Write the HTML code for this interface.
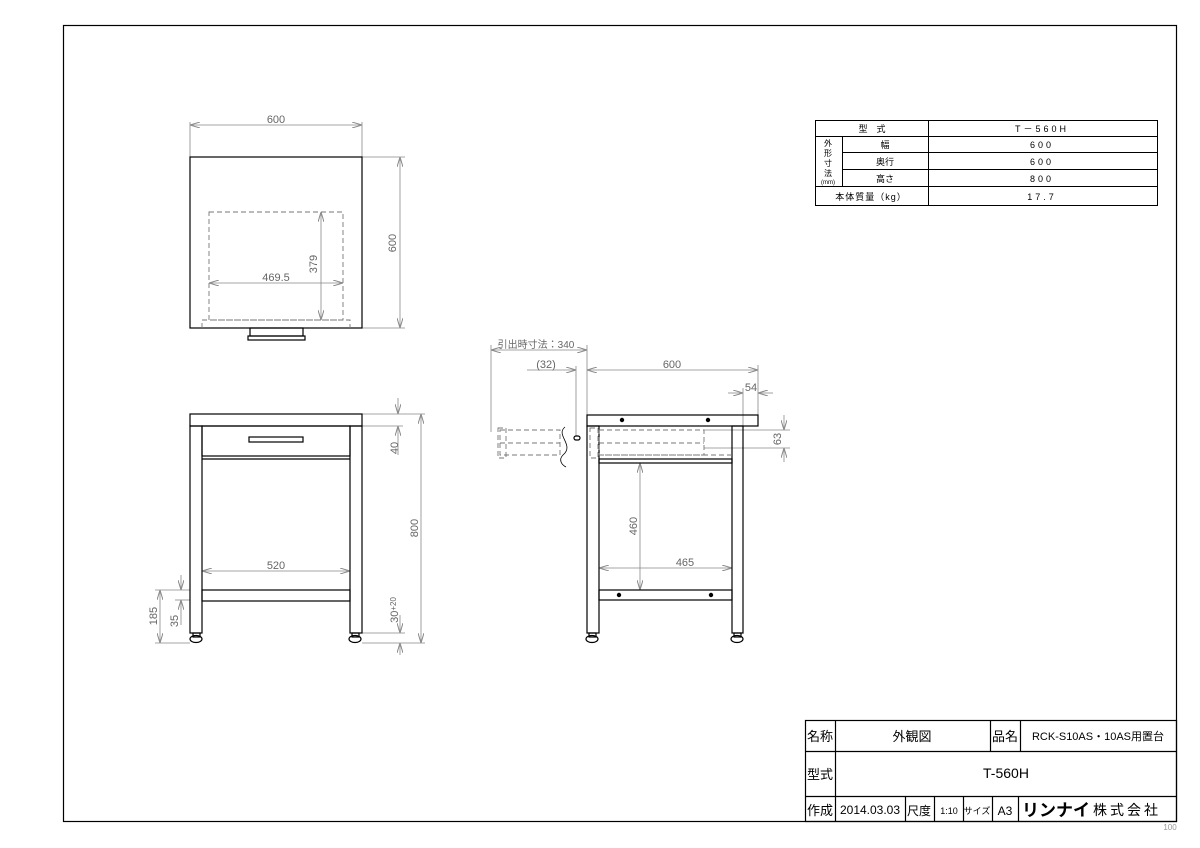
<!DOCTYPE html>
<html><head><meta charset="utf-8"><style>
html,body{margin:0;padding:0;background:#fff}
svg{display:block}
text{font-family:"Liberation Sans","Noto Sans CJK JP",sans-serif}
</style></head><body>
<svg width="1200" height="848" viewBox="0 0 1200 848" xmlns="http://www.w3.org/2000/svg">
<defs>
<marker id="a" viewBox="0 0 10 6" refX="10" refY="3" markerWidth="10" markerHeight="6" orient="auto-start-reverse" markerUnits="userSpaceOnUse"><path d="M0,0 L10,3 L0,6" fill="none" stroke="#888" stroke-width="1"/></marker>
</defs>
<rect x="63.5" y="25.5" width="1113" height="796" fill="none" stroke="#000" stroke-width="1.2"/>

<g stroke="#888" stroke-width="0.8" fill="none">
<line x1="190" y1="122" x2="190" y2="157"/><line x1="362" y1="122" x2="362" y2="157"/>
<line x1="190" y1="125" x2="362" y2="125" marker-start="url(#a)" marker-end="url(#a)"/>
<line x1="362" y1="157" x2="405" y2="157"/><line x1="362" y1="328" x2="405" y2="328"/>
<line x1="400" y1="157" x2="400" y2="328" marker-start="url(#a)" marker-end="url(#a)"/>
<line x1="321" y1="212" x2="321" y2="320" marker-start="url(#a)" marker-end="url(#a)"/>
<line x1="209" y1="283" x2="343" y2="283" marker-start="url(#a)" marker-end="url(#a)"/>
<line x1="362" y1="414" x2="425" y2="414"/><line x1="362" y1="426" x2="403" y2="426"/>
<line x1="398" y1="398" x2="398" y2="414" marker-end="url(#a)"/>
<line x1="398" y1="455" x2="398" y2="426" marker-end="url(#a)"/>
<line x1="421" y1="414" x2="421" y2="643" marker-start="url(#a)" marker-end="url(#a)"/>
<line x1="202" y1="571" x2="350" y2="571" marker-start="url(#a)" marker-end="url(#a)"/>
<line x1="155" y1="590" x2="190" y2="590"/><line x1="175" y1="600" x2="190" y2="600"/>
<line x1="155" y1="643" x2="190" y2="643"/>
<line x1="160" y1="590" x2="160" y2="643" marker-start="url(#a)" marker-end="url(#a)"/>
<line x1="181" y1="575" x2="181" y2="590" marker-end="url(#a)"/>
<line x1="181" y1="625" x2="181" y2="600" marker-end="url(#a)"/>
<line x1="362" y1="633" x2="405" y2="633"/><line x1="362" y1="643" x2="425" y2="643"/>
<line x1="400" y1="615" x2="400" y2="633" marker-end="url(#a)"/>
<line x1="400" y1="655" x2="400" y2="643" marker-end="url(#a)"/>
<line x1="587" y1="345" x2="587" y2="415"/><line x1="758" y1="365" x2="758" y2="415"/>
<line x1="491" y1="345" x2="491" y2="432"/><line x1="576" y1="366" x2="576" y2="436"/>
<line x1="491" y1="350" x2="587" y2="350" marker-start="url(#a)" marker-end="url(#a)"/>
<line x1="527" y1="370" x2="576" y2="370" marker-end="url(#a)"/>
<line x1="587" y1="370" x2="758" y2="370" marker-start="url(#a)" marker-end="url(#a)"/>
<line x1="743" y1="388" x2="743" y2="460"/>
<line x1="728" y1="393" x2="743" y2="393" marker-end="url(#a)"/>
<line x1="773" y1="393" x2="758" y2="393" marker-end="url(#a)"/>
<line x1="704" y1="430" x2="790" y2="430"/><line x1="704" y1="448" x2="790" y2="448"/>
<line x1="784" y1="415" x2="784" y2="430" marker-end="url(#a)"/>
<line x1="784" y1="462" x2="784" y2="448" marker-end="url(#a)"/>
<line x1="640" y1="463" x2="640" y2="590" marker-start="url(#a)" marker-end="url(#a)"/>
<line x1="599" y1="568" x2="732" y2="568" marker-start="url(#a)" marker-end="url(#a)"/>
</g>

<g fill="#666" font-size="11">
<text x="276" y="123" text-anchor="middle">600</text>
<text x="396" y="243" text-anchor="middle" transform="rotate(-90 396 243)">600</text>
<text x="317" y="264" text-anchor="middle" transform="rotate(-90 317 264)">379</text>
<text x="276" y="281" text-anchor="middle">469.5</text>
<text x="276" y="569" text-anchor="middle">520</text>
<text x="398" y="448" text-anchor="middle" transform="rotate(-90 398 448)">40</text>
<text x="418" y="528" text-anchor="middle" transform="rotate(-90 418 528)">800</text>
<text x="157" y="616" text-anchor="middle" transform="rotate(-90 157 616)">185</text>
<text x="178" y="621" text-anchor="middle" transform="rotate(-90 178 621)">35</text>
<text x="398" y="610" text-anchor="middle" transform="rotate(-90 398 610)">30<tspan font-size="8" dy="-2">+20</tspan></text>
<text x="536" y="348" text-anchor="middle" font-size="10">引出時寸法：340</text>
<text x="546" y="368" text-anchor="middle">(32)</text>
<text x="672" y="368" text-anchor="middle">600</text>
<text x="751" y="391" text-anchor="middle">54</text>
<text x="781" y="439" text-anchor="middle" transform="rotate(-90 781 439)">63</text>
<text x="637" y="526" text-anchor="middle" transform="rotate(-90 637 526)">460</text>
<text x="685" y="566" text-anchor="middle">465</text>
</g>

<g stroke="#000" stroke-width="1.2" fill="none">
<rect x="190" y="157" width="172" height="171"/>
<rect x="250" y="328" width="53" height="8"/><rect x="248" y="336" width="57" height="4"/>
<rect x="190" y="414" width="172" height="12"/>
<rect x="190" y="426" width="12" height="207"/><rect x="350" y="426" width="12" height="207"/>
<rect x="202" y="426" width="148" height="30"/><line x1="202" y1="459" x2="350" y2="459"/>
<rect x="249" y="437" width="54" height="5"/>
<rect x="202" y="590" width="148" height="11"/>
<rect x="193" y="633" width="7" height="4"/><ellipse cx="196" cy="639" rx="6" ry="3.5"/>
<rect x="352" y="633" width="7" height="4"/><ellipse cx="355" cy="639" rx="6" ry="3.5"/>
<rect x="587" y="415" width="171" height="11"/>
<rect x="587" y="426" width="12" height="207"/><rect x="732" y="426" width="11" height="207"/>
<rect x="599" y="459" width="133" height="4"/>
<rect x="599" y="590" width="133" height="10"/>
<rect x="589" y="633" width="7" height="4"/><ellipse cx="592" cy="639" rx="6" ry="3.5"/>
<rect x="734" y="633" width="7" height="4"/><ellipse cx="737" cy="639" rx="6" ry="3.5"/>
<rect x="574" y="436" width="6" height="4" rx="2"/>
<path d="M565,427 C555,435 575,445 563,455 C558,460 562,465 566,467" stroke-width="0.8"/>
</g>
<g fill="#000">
<circle cx="622" cy="420" r="2.2"/><circle cx="708" cy="420" r="2.2"/>
<circle cx="619" cy="595" r="2.2"/><circle cx="711" cy="595" r="2.2"/>
</g>
<g stroke="#777" stroke-width="0.9" fill="none" stroke-dasharray="5,3">
<rect x="209" y="212" width="134" height="108"/>
<path d="M202,328 V320 H350 V328"/>
<rect x="599" y="430" width="105" height="25"/>
<line x1="599" y1="443" x2="704" y2="443"/>
<line x1="599" y1="455" x2="732" y2="455"/>
<rect x="590" y="428" width="8" height="30"/>
<rect x="500" y="430" width="60" height="25"/>
<line x1="500" y1="443" x2="560" y2="443"/>
<rect x="498" y="428" width="8" height="30"/>
</g>

<g stroke="#000" stroke-width="1" fill="none">
<rect x="815.5" y="120.5" width="342" height="85"/>
<line x1="815" y1="136.5" x2="1157" y2="136.5"/>
<line x1="842" y1="152.5" x2="1157" y2="152.5"/>
<line x1="842" y1="169.5" x2="1157" y2="169.5"/>
<line x1="815" y1="186.5" x2="1157" y2="186.5"/>
<line x1="928.5" y1="120" x2="928.5" y2="205"/>
<line x1="842.5" y1="136" x2="842.5" y2="186"/>
</g>
<g font-size="9" fill="#000" text-anchor="middle">
<text x="872" y="132">型　式</text>
<text x="1042" y="132" letter-spacing="3">T－560H</text>
<g font-size="8"><text x="828" y="146">外</text><text x="828" y="156">形</text><text x="828" y="166">寸</text><text x="828" y="176">法</text></g>
<text x="828" y="184" font-size="6">(mm)</text>
<text x="885" y="148">幅</text><text x="885" y="165">奥行</text><text x="885" y="182">高さ</text>
<text x="1042" y="148" letter-spacing="3">600</text>
<text x="1042" y="165" letter-spacing="3">600</text>
<text x="1042" y="182" letter-spacing="3">800</text>
<text x="871" y="200" letter-spacing="1">本体質量（kg）</text>
<text x="1042" y="200" letter-spacing="3">17.7</text>
</g>

<g stroke="#000" stroke-width="1.2" fill="none">
<rect x="805.5" y="720.5" width="371" height="101"/>
<line x1="805" y1="751.5" x2="1177" y2="751.5"/>
<line x1="805" y1="796.5" x2="1177" y2="796.5"/>
<line x1="835.5" y1="720" x2="835.5" y2="822"/>
<line x1="990.5" y1="720" x2="990.5" y2="751"/>
<line x1="1020.5" y1="720" x2="1020.5" y2="751"/>
<line x1="905.5" y1="796" x2="905.5" y2="822"/>
<line x1="934.5" y1="796" x2="934.5" y2="822"/>
<line x1="963.5" y1="796" x2="963.5" y2="822"/>
<line x1="992.5" y1="796" x2="992.5" y2="822"/>
<line x1="1018.5" y1="796" x2="1018.5" y2="822"/>
</g>
<g fill="#000" font-size="13">
<text x="807" y="741">名称</text>
<text x="912" y="741" text-anchor="middle">外観図</text>
<text x="992" y="741">品名</text>
<text x="1098" y="740" text-anchor="middle" font-size="11">RCK-S10AS・10AS用置台</text>
<text x="807" y="779">型式</text>
<text x="1006" y="778" text-anchor="middle" font-size="14">T-560H</text>
<text x="807" y="815">作成</text>
<text x="870" y="814" text-anchor="middle" font-size="12">2014.03.03</text>
<text x="907" y="815" font-size="12">尺度</text>
<text x="949" y="814" text-anchor="middle" font-size="9">1:10</text>
<text x="977" y="814" text-anchor="middle" font-size="9">サイズ</text>
<text x="1005" y="815" text-anchor="middle" font-size="12">A3</text>
<text x="1022" y="816" font-size="17" font-weight="bold">リンナイ</text>
<text x="1093" y="815" font-size="14" letter-spacing="3">株式会社</text>
</g>
<text x="1170" y="830" fill="#999" font-size="8" text-anchor="middle">100</text>
</svg>
</body></html>
